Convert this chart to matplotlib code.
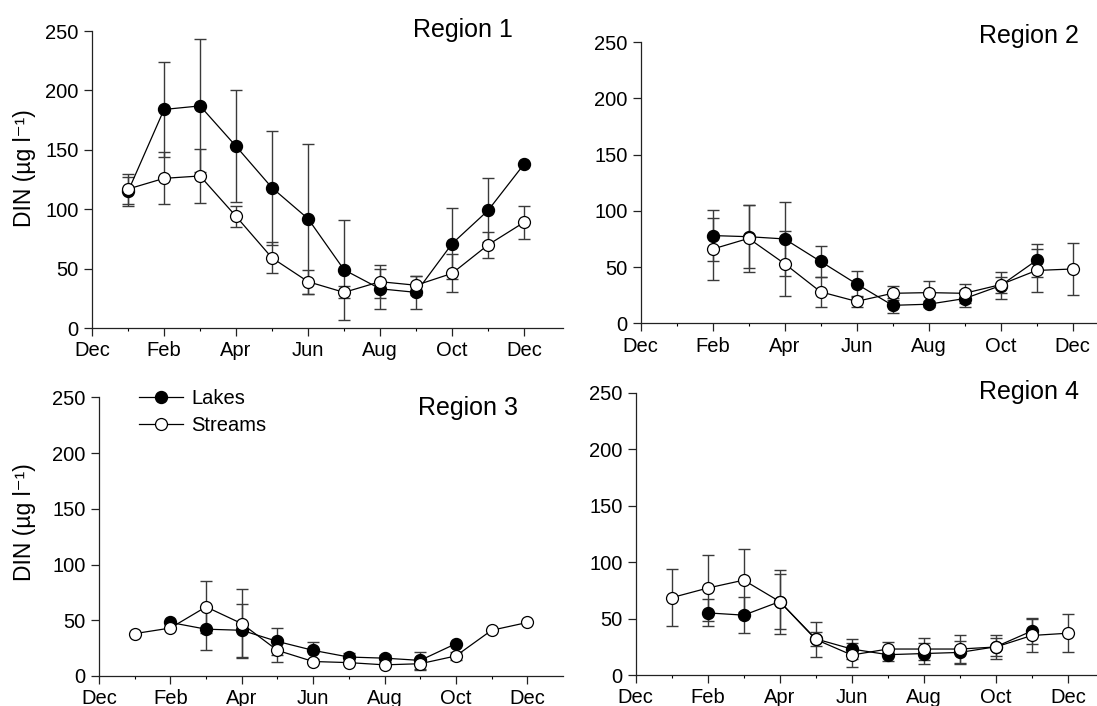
import matplotlib
matplotlib.use('Agg')
import matplotlib.pyplot as plt
import numpy as np

plt.rcParams['font.family'] = ['Liberation Sans', 'DejaVu Sans']
plt.rcParams['axes.linewidth'] = 0.9

nan = np.nan
months = np.arange(1, 13)
tick_pos = [0, 2, 4, 6, 8, 10, 12]
tick_labels = ['Dec', 'Feb', 'Apr', 'Jun', 'Aug', 'Oct', 'Dec']
y_ticks = [0, 50, 100, 150, 200, 250]

# Region 1
r1_lakes = [115, 184, 187, 153, 118, 92, 49, 33, 30, 71, 99, 138]
r1_lakes_err = [12, 40, 56, 47, 48, 63, 42, 17, 14, 30, 27, nan]
r1_streams = [117, 126, 128, 94, 59, 39, 30, 39, 36, 46, 70, 89]
r1_streams_err = [13, 22, 23, 9, 13, 10, 5, 14, 8, 16, 11, 14]

# Region 2
r2_lakes = [nan, 78, 77, 75, 55, 35, 16, 17, 22, 33.5, 56, nan]
r2_lakes_err = [nan, 22.5, 28, 33, 13.5, 11.7, 6.5, 2.7, 7.4, 12, 14.5, nan]
r2_streams = [nan, 66, 75.5, 53, 28, 19.5, 26.7, 27.3, 26.7, 34.4, 47, 48.3]
r2_streams_err = [nan, 27.6, 30, 29, 13.5, 4.7, 6.2, 10.6, 8.3, 7, 19, 22.7]

# Region 3
r3_lakes = [nan, 48, 42, 41, 31, 23, 17, 16, 14, 29, nan, nan]
r3_lakes_err = [nan, nan, 19, 24, 12, 7.5, 4, 3, 7.4, nan, nan, nan]
r3_streams = [38, 43, 62, 47, 23, 13, 12, 10, 11, 18, 41, 48]
r3_streams_err = [nan, nan, 23.6, 31, 10, nan, nan, nan, 5.4, 3.5, nan, nan]

# Region 4
r4_lakes = [nan, 55, 53, 65, 32, 23, 18, 19, 20, 25, 39, nan]
r4_lakes_err = [nan, 12, 16, 24, 6, 9, 6, 9, 10, 8, 11.5, nan]
r4_streams = [68.5, 77, 84, 65, 31.5, 17.7, 23, 23, 23, 24.8, 35, 37]
r4_streams_err = [25, 29, 28, 28.4, 15.6, 10.6, 6.2, 9.5, 12.4, 10.3, 15, 17]

panels = [
    ('Region 1', r1_lakes, r1_lakes_err, r1_streams, r1_streams_err),
    ('Region 2', r2_lakes, r2_lakes_err, r2_streams, r2_streams_err),
    ('Region 3', r3_lakes, r3_lakes_err, r3_streams, r3_streams_err),
    ('Region 4', r4_lakes, r4_lakes_err, r4_streams, r4_streams_err),
]

# axes rectangles (figure fraction) and x limits
rects = [
    [0.0839, 0.5354, 0.4293, 0.4206],
    [0.5840, 0.5420, 0.4160, 0.3985],
    [0.0902, 0.0425, 0.4230, 0.3948],
    [0.5795, 0.0439, 0.4205, 0.3999],
]
xmax = [13.08, 12.68, 13.0, 12.81]
# region label anchor (right edge month, baseline value)
label_pos = [(11.7, 245), (12.18, 249), (11.73, 234), (12.32, 244)]

fig = plt.figure(figsize=(10.97, 7.06), dpi=100)

err_color = '#3a3a3a'
axes = []
for i, (name, lk, lk_e, st, st_e) in enumerate(panels):
    ax = fig.add_axes(rects[i])
    axes.append(ax)
    ax.errorbar(months, lk, yerr=lk_e, fmt='none', ecolor=err_color,
                elinewidth=1.0, capsize=4.5, capthick=1.0, zorder=1)
    ax.errorbar(months, st, yerr=st_e, fmt='none', ecolor=err_color,
                elinewidth=1.0, capsize=4.5, capthick=1.0, zorder=1)
    ax.plot(months, lk, '-o', color='black', lw=0.9, markersize=8.6,
            markerfacecolor='black', markeredgecolor='black', label='Lakes', zorder=3)
    ax.plot(months, st, '-o', color='black', lw=0.9, markersize=8.6,
            markerfacecolor='white', markeredgecolor='black', markeredgewidth=0.9,
            label='Streams', zorder=4)

    ax.set_xlim(0, xmax[i])
    ax.set_ylim(0, 250)
    ax.spines['top'].set_visible(False)
    ax.spines['right'].set_visible(False)
    ax.spines['left'].set_color('#222222')
    ax.spines['bottom'].set_color('#222222')
    ax.set_xticks(tick_pos)
    ax.set_xticklabels(tick_labels)
    ax.set_xticks(np.arange(1, 13, 2), minor=True)
    ax.set_yticks(y_ticks)
    ax.tick_params(axis='both', which='major', direction='out', length=5.5,
                   width=0.9, labelsize=14.5, pad=4, color='#222222')
    ax.tick_params(axis='x', which='minor', direction='out', length=2.5, width=0.8)
    ax.text(label_pos[i][0], label_pos[i][1], name, ha='right', va='baseline',
            fontsize=18)

fig.text(0.022, 0.762, 'DIN (µg l⁻¹)', rotation=90, ha='center', va='center',
         fontsize=16.5)
fig.text(0.022, 0.26, 'DIN (µg l⁻¹)', rotation=90, ha='center', va='center',
         fontsize=16.5)

axes[2].legend(loc='upper left', bbox_to_anchor=(0.086, 1.03), frameon=False,
               fontsize=14.5, handlelength=2.2, handletextpad=0.4, labelspacing=0.4,
               borderpad=0, borderaxespad=0)

fig.savefig('out.png', dpi=100)
